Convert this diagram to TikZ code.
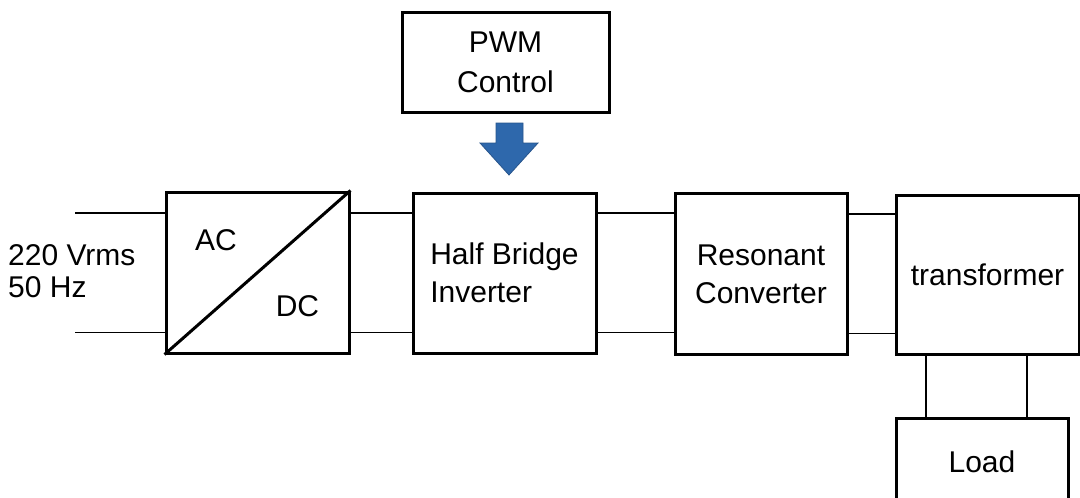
\documentclass[tikz,border=0pt]{standalone}
\usepackage{fontspec}
\setmainfont{Liberation Sans}
\definecolor{arrowblue}{RGB}{46,104,172}
\definecolor{arrowedge}{RGB}{40,85,140}
\begin{document}
\begin{tikzpicture}[x=1pt,y=-1pt,
  blk/.style={draw=black,line width=3pt,fill=white,inner sep=0pt,
    font=\fontsize{30}{38}\selectfont,align=center},
  wire/.style={draw=black,line width=1.4pt},
  lbl/.style={inner sep=0pt,font=\fontsize{30}{36}\selectfont}]
\useasboundingbox (0,0) rectangle (1080,498);
% blocks
\node[blk,minimum width=207pt,minimum height=100pt,font=\fontsize{30}{40}\selectfont] (pwm) at (505.5,62) {PWM\\Control};
\node[blk,minimum width=183pt,minimum height=161pt] (acdc) at (257.5,272.5) {};
\node[blk,minimum width=183pt,minimum height=160pt,align=left] (hb) at (504.5,273) {Half Bridge\\Inverter};
\node[blk,minimum width=172pt,minimum height=161pt] (rc) at (761,274) {Resonant\\Converter};
\node[blk,minimum width=183pt,minimum height=159pt] (tr) at (987.5,274.5) {transformer};
\node[blk,minimum width=172pt,minimum height=86pt,anchor=north] (load) at (982,417) {Load};
% AC/DC contents
\draw[line width=3pt] (acdc.south west) -- (acdc.north east);
\node[lbl] (ac) at (216,240) {AC};
\node[lbl] (dc) at (297.5,306) {DC};
% input label
\node[lbl,anchor=west,align=left,font=\fontsize{30}{32}\selectfont] (vin) at (8,271) {220 Vrms\\50 Hz};
% wires
\coordinate (in1) at (75,213);
\coordinate (in2) at (75,332.5);
\draw[wire] (in1) -- (in1 -| acdc.west);
\draw[wire] (in2) -- (in2 -| acdc.west);
\draw[wire] (acdc.east |- in1) -- (hb.west |- in1);
\draw[wire] (acdc.east |- in2) -- (hb.west |- in2);
\draw[wire] (hb.east |- in1) -- (rc.west |- in1);
\draw[wire] (hb.east |- in2) -- (rc.west |- in2);
\coordinate (t1) at (0,214);
\coordinate (t2) at (0,333.5);
\draw[wire] (rc.east |- t1) -- (tr.west |- t1);
\draw[wire] (rc.east |- t2) -- (tr.west |- t2);
\coordinate (l1) at (926,0);
\coordinate (l2) at (1027,0);
\draw[wire] (tr.south -| l1) -- (load.north -| l1);
\draw[wire] (tr.south -| l2) -- (load.north -| l2);
% blue arrow from PWM control to inverter
\fill[arrowblue,draw=arrowedge,line width=0.8pt]
  (496,123) -- (523,123) -- (523,143) -- (538,143) -- (509,175)
  -- (480,143) -- (496,143) -- cycle;
\end{tikzpicture}
\end{document}
